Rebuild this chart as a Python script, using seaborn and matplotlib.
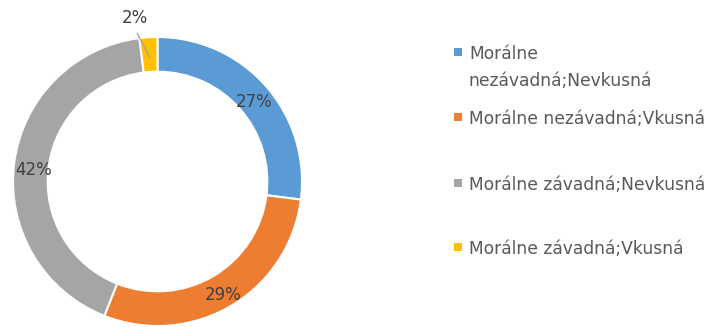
import numpy as np
import matplotlib
matplotlib.use("Agg")
import matplotlib.pyplot as plt
import matplotlib.transforms as mtransforms
import seaborn as sns
from matplotlib.patches import Rectangle

categories = ["Morálne\nnezávadná;Nevkusná",
              "Morálne nezávadná;Vkusná",
              "Morálne závadná;Nevkusná",
              "Morálne závadná;Vkusná"]
values = [27, 29, 42, 2]
pct_labels = ["27%", "29%", "42%", "2%"]
colors = ["#5B9BD5", "#ED7D31", "#A5A5A5", "#FFC000"]

sns.set_theme(style="white")
plt.rcParams["font.family"] = ["DejaVu Sans"]
palette = sns.color_palette(colors)

W, H = 709, 327
fig = plt.figure(figsize=(W / 100, H / 100), dpi=100)
fig.patch.set_facecolor("white")

# donut axes
cx, cy, R = 157.5, 181.5, 144.5
ax = fig.add_axes([(cx - R) / W, (H - cy - R) / H, 2 * R / W, 2 * R / H])
wedges, _ = ax.pie(values, colors=palette, startangle=90, counterclock=False,
                   radius=1.0, wedgeprops=dict(width=0.24, edgecolor="white", linewidth=1.5))
ax.set_xlim(-1, 1)
ax.set_ylim(-1, 1)
ax.set_aspect("equal")
ax.axis("off")

txt_col = "#404040"
lab_tr = mtransforms.offset_copy(ax.transData, fig=fig, x=1.5, y=-4.5, units="dots")
for w, lab in zip(wedges, pct_labels):
    mid = np.deg2rad((w.theta1 + w.theta2) / 2)
    if w.theta2 - w.theta1 > 20:
        r = 0.875
        ax.text(r * np.cos(mid), r * np.sin(mid), lab, ha="center", va="center",
                fontsize=12, color=txt_col, transform=lab_tr)
    else:
        la = mid + np.deg2rad(4.2)
        ax.text(1.14 * np.cos(la), 1.14 * np.sin(la), lab, ha="center", va="center",
                fontsize=12, color=txt_col, clip_on=False)
        ax.plot([1.035 * np.cos(la), 0.86 * np.cos(mid)],
                [1.035 * np.sin(la), 0.86 * np.sin(mid)],
                color="#A6A6A6", lw=1.0, clip_on=False)

# legend drawn manually to match the reference layout
leg_col = "#595959"
line_px = 27.0
ys = [52, 117, 183, 247]
for y, lab, c in zip(ys, categories, palette):
    fig.patches.append(Rectangle((454 / W, (H - y - 4) / H), 8 / W, 8 / H,
                                 transform=fig.transFigure, facecolor=c,
                                 edgecolor="none"))
    nl = lab.count("\n")
    fig.text(469 / W, (H - y - 6.5 - nl * line_px) / H, lab, ha="left", va="baseline",
             fontsize=12.3, color=leg_col, linespacing=1.58)

fig.savefig("out.png", dpi=100, facecolor="white")
